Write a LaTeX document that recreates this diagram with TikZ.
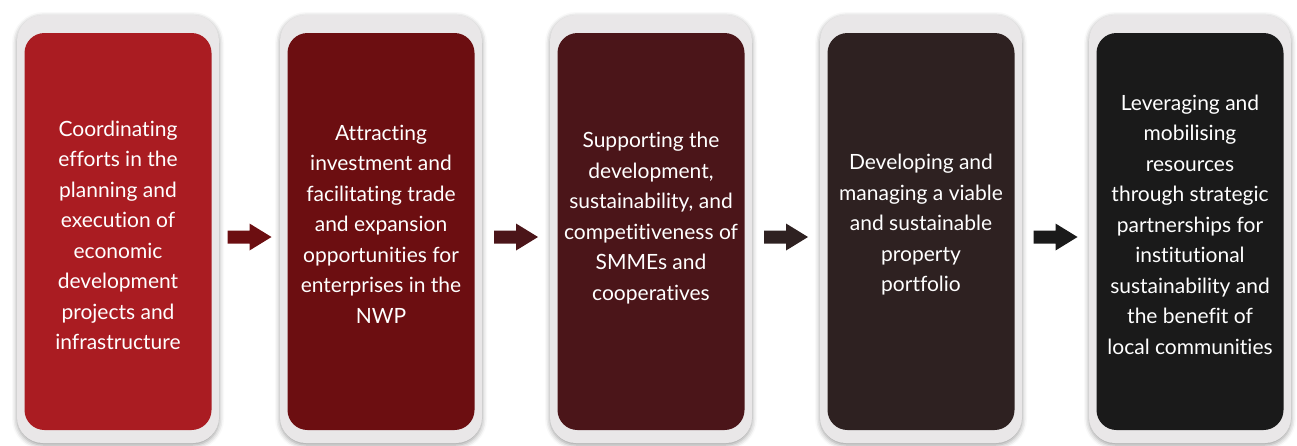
\documentclass[tikz,border=0pt]{standalone}
\usepackage{fontspec}
\setmainfont{Lato}[Ligatures=NoCommon]
\usetikzlibrary{calc,shadows.blur}

\definecolor{panelgray}{HTML}{E9E7E8}
\definecolor{stageone}{HTML}{AA1C22}
\definecolor{stagetwo}{HTML}{6C0E11}
\definecolor{stagethree}{HTML}{4B1519}
\definecolor{stagefour}{HTML}{2E2121}
\definecolor{stagefive}{HTML}{1A1A1A}

\tikzset{
  panel/.style={fill=panelgray, rounded corners=26pt, inner sep=0pt,
    minimum width=202pt, minimum height=428pt,
    blur shadow={shadow xshift=0pt, shadow yshift=-2pt, shadow blur radius=5pt, shadow opacity=40}},
  stage/.style={rounded corners=20pt, inner sep=0pt, minimum width=187pt, minimum height=397pt},
  stagetext/.style={text=white, align=center, inner sep=0pt, font=\fontsize{21}{30.5}\selectfont}
}

\begin{document}
\begin{tikzpicture}[x=1pt,y=-1pt]
        \useasboundingbox (0,0) rectangle (1297,445);

        % grey frames
        \node[panel] (p1) at (118,229) {};
        \node[panel] (p2) at (381,229) {};
        \node[panel] (p3) at (651,229) {};
        \node[panel] (p4) at (921,229) {};
        \node[panel] (p5) at (1190,229) {};

        % coloured cards
        \node[stage, fill=stageone] (s1) at ([yshift=-2.5pt]p1.center) {};
        \node[stage, fill=stagetwo] (s2) at ([yshift=-2.5pt]p2.center) {};
        \node[stage, fill=stagethree] (s3) at ([yshift=-2.5pt]p3.center) {};
        \node[stage, fill=stagefour] (s4) at ([yshift=-2.5pt]p4.center) {};
        \node[stage, fill=stagefive] (s5) at ([yshift=-2.5pt]p5.center) {};

        \node[stagetext] (t1) at (118,235.5) {Coordinating\\efforts in the\\planning and\\execution of\\economic\\development\\projects and\\infrastructure};
        \node[stagetext] (t2) at (381,224) {Attracting\\investment and\\facilitating trade\\and expansion\\opportunities for\\enterprises in the\\NWP};
        \node[stagetext] (t3) at (651,218) {Supporting the\\development,\\sustainability, and\\competitiveness of\\SMMEs and\\cooperatives};
        \node[stagetext] (t4) at (921,225) {Developing and\\managing a viable\\and sustainable\\property\\portfolio};
        \node[stagetext] (t5) at (1190,224.5) {Leveraging and\\mobilising\\resources\\through strategic\\partnerships for\\institutional\\sustainability and\\the benefit of\\local communities};

        % block arrows between the frames
        \coordinate (m1) at ($(p1.east)!0.5!(p2.west)+(0,8)$);
        \coordinate (m2) at ($(p2.east)!0.5!(p3.west)+(0,8)$);
        \coordinate (m3) at ($(p3.east)!0.5!(p4.west)+(0,8)$);
        \coordinate (m4) at ($(p4.east)!0.5!(p5.west)+(0,8)$);
        \fill[stagetwo] ($(m1)+(-22,-6.5)$) -- ++(22,0) -- ++(0,-7) -- ++(22,13.5) -- ++(-22,13.5) -- ++(0,-7) -- ++(-22,0) -- cycle;
        \fill[stagethree] ($(m2)+(-22,-6.5)$) -- ++(22,0) -- ++(0,-7) -- ++(22,13.5) -- ++(-22,13.5) -- ++(0,-7) -- ++(-22,0) -- cycle;
        \fill[stagefour] ($(m3)+(-22,-6.5)$) -- ++(22,0) -- ++(0,-7) -- ++(22,13.5) -- ++(-22,13.5) -- ++(0,-7) -- ++(-22,0) -- cycle;
        \fill[stagefive] ($(m4)+(-22,-6.5)$) -- ++(22,0) -- ++(0,-7) -- ++(22,13.5) -- ++(-22,13.5) -- ++(0,-7) -- ++(-22,0) -- cycle;
\end{tikzpicture}
\end{document}
